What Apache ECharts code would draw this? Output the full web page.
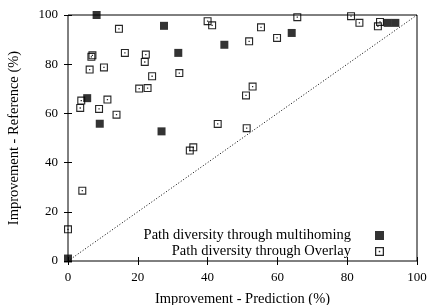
<!DOCTYPE html>
<html>
<head>
<meta charset="utf-8">
<script src="https://cdn.jsdelivr.net/npm/echarts@6/dist/echarts.min.js"></script>
<style>
  html, body { margin: 0; padding: 0; background: #fff; }
  #chart { width: 429px; height: 305px; }
</style>
</head>
<body>
<div id="chart"></div>
<script>
// path diversity through multihoming: [prediction, reference]
const multihoming = [
  [0, 1], [8.2, 100], [27.5, 95.6], [31.6, 84.6], [5.5, 66.2], [9.1, 55.8],
  [26.8, 52.7], [44.8, 87.9], [64.1, 92.7], [91.6, 96.8], [93.8, 96.8]
]

// path diversity through overlay
const overlay = [
  [0, 12.9], [4.1, 28.6], [14.6, 94.4], [6.7, 83.0], [7.0, 83.6], [16.3, 84.6],
  [22.3, 83.9], [22.0, 80.9], [6.2, 77.8], [10.3, 78.7], [31.9, 76.4], [24.1, 75.1],
  [20.4, 70.1], [22.8, 70.3], [3.8, 65.2], [3.5, 62.2], [11.3, 65.6], [8.9, 61.8],
  [13.9, 59.5], [40.0, 97.5], [41.3, 95.8], [55.3, 95.0], [51.9, 89.3], [59.9, 90.7],
  [65.7, 99.1], [52.9, 70.9], [51.0, 67.3], [42.9, 55.7], [51.2, 54.0], [35.9, 46.2],
  [34.9, 44.9], [81.1, 99.5], [83.5, 96.8], [89.4, 97.2], [88.8, 95.4]
]

const diagonal = [[0, 0], [100, 100]]

const seriesNames = ['Path diversity through multihoming', 'Path diversity through Overlay']

const font = 'Liberation Serif'
const openSquare = 'path://M0 0H10V10H0Z M1.4 1.4V8.6H8.6V1.4Z M4.2 4.2H5.8V5.8H4.2Z'

let myChart = echarts.init(document.getElementById('chart'))

const hiddenAxis = {
    min: 0, max: 100, interval: 20,
    axisLine: { show: false },
    axisTick: { inside: true, length: 4, lineStyle: { color: '#000' } },
    axisLabel: { show: false },
    splitLine: { show: false }
}

myChart.setOption({
    animation: false,
    textStyle: { fontFamily: font },
    grid: {
        left: 68, right: 12, top: 15, bottom: 44,
        outerBoundsMode: 'none',
        containLabel: false,
        show: true, borderColor: '#000', borderWidth: 1
    },
    legend: {
        data: seriesNames,
        orient: 'vertical',
        align: 'right',
        right: 40,
        bottom: 41,
        itemGap: 1,
        itemWidth: 9,
        itemHeight: 9,
        textStyle: { fontFamily: font, fontSize: 14.5, color: '#000', padding: [0, 19, 0, 0] }
    },
    xAxis: [
        {
            type: 'value', position: 'bottom',
            min: 0, max: 100, interval: 20,
            name: 'Improvement - Prediction (%)',
            nameLocation: 'middle', nameGap: 31,
            nameTextStyle: { fontFamily: font, fontSize: 14.5, color: '#000' },
            axisLine: { show: false },
            axisTick: { inside: true, length: 4, lineStyle: { color: '#000' } },
            axisLabel: { fontFamily: font, fontSize: 13, color: '#000', margin: 10 },
            splitLine: { show: false }
        },
        Object.assign({ type: 'value', position: 'top' }, hiddenAxis)
    ],
    yAxis: [
        {
            type: 'value', position: 'left',
            min: 0, max: 100, interval: 20,
            name: 'Improvement - Reference (%)',
            nameLocation: 'middle', nameGap: 46,
            nameTextStyle: { fontFamily: font, fontSize: 14.5, color: '#000' },
            axisLine: { show: false },
            axisTick: { inside: true, length: 4, lineStyle: { color: '#000' } },
            axisLabel: { fontFamily: font, fontSize: 13, color: '#000', margin: 10 },
            splitLine: { show: false }
        },
        Object.assign({ type: 'value', position: 'right' }, hiddenAxis)
    ],
    series: [
        {
            name: 'diagonal',
            type: 'line',
            data: diagonal,
            symbol: 'none',
            silent: true,
            lineStyle: { color: '#000', width: 1, type: [1, 2] }
        },
        {
            name: seriesNames[0],
            type: 'scatter',
            data: multihoming,
            symbol: 'rect',
            symbolSize: 8,
            itemStyle: { color: '#000' }
        },
        {
            name: seriesNames[1],
            type: 'scatter',
            data: overlay,
            symbol: openSquare,
            symbolSize: 8,
            itemStyle: { color: '#000', opacity: 0.85 }
        }
    ]
})
</script>
</body>
</html>
